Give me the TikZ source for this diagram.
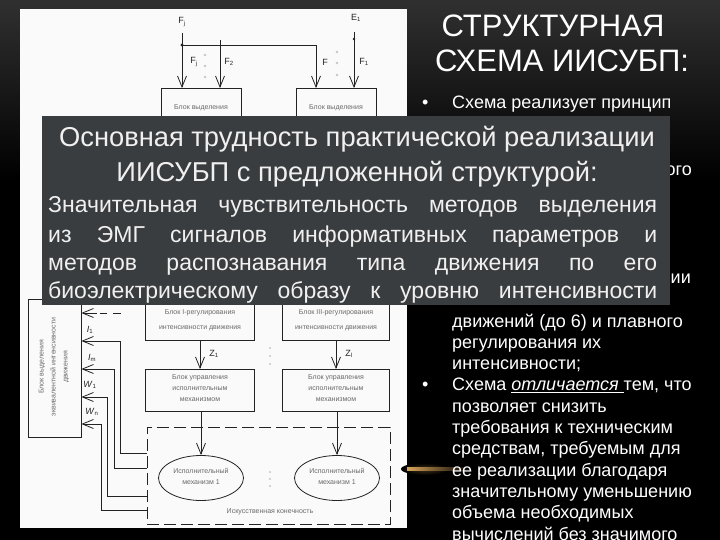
\documentclass[tikz,border=0pt]{standalone}
\usepackage{fontspec}
\setmainfont{Liberation Sans}
\usetikzlibrary{arrows.meta,shapes.geometric}
\definecolor{ovl}{RGB}{58,61,63}
\definecolor{paper}{RGB}{250,250,250}
\definecolor{dline}{RGB}{35,35,35}
\definecolor{dtext}{RGB}{105,105,105}
\definecolor{gold}{RGB}{215,165,90}
\begin{document}
\begin{tikzpicture}[x=1pt,y=-1pt,
  blk/.style={draw=dline,line width=0.8pt,fill=paper,inner sep=0pt,rectangle},
  lbl/.style={text=dtext,font=\fontsize{7}{11}\selectfont,align=center,inner sep=0pt},
  arr/.style={draw=dline,line width=0.8pt,-{Straight Barb[length=11pt,width=9pt]}},
  ln/.style={draw=dline,line width=0.8pt},
  sym/.style={text=dline,font=\fontsize{9}{10}\selectfont,inner sep=0pt},
  dotc/.style={fill=black!22},
  rt/.style={text=white,anchor=base west,inner sep=0pt,font=\fontsize{18}{21}\selectfont},
  ttl/.style={text=white,anchor=base,inner sep=0pt,font=\fontsize{31}{34}\selectfont},
  ovt/.style={text=white!94!black,inner sep=0pt,anchor=base,font=\fontsize{27.3}{30}\selectfont},
  ovj/.style={text=white!94!black,inner sep=0pt,anchor=base west,font=\fontsize{23}{26}\selectfont}
]
\useasboundingbox (0,0) rectangle (720,540);
% background
\fill[black] (0,0) rectangle (720,540);
\shade[top color={rgb,255:red,48;green,48;blue,48}, bottom color=black] (0,0) rectangle (720,180);
% diagram panel
\fill[paper] (20,9) rectangle (407,528);
% golden glow
\shade[inner color=gold!30!black, outer color=black] (425,469) ellipse [x radius=24, y radius=6];
\shade[left color=gold, right color=black] (407,467.5) rectangle (470,470.5);

% ---------- diagram: top ----------
\node[blk, minimum width=80pt, minimum height=60pt, anchor=north] (tb1) at (201,88) {};
\node[blk, minimum width=80pt, minimum height=60pt, anchor=north] (tb2) at (336,88) {};
\node[lbl] (tb1t) at (201,108) {Блок выделения};
\node[lbl] (tb2t) at (336,108) {Блок выделения};

\coordinate (fjtop) at (182,33);
\coordinate (fjdot) at (182,45);
\coordinate (fcorner) at (316,45);
\coordinate (f2top) at (220,40);
\coordinate (e1top) at (354,32);
\coordinate (e1dot) at (354,39);
\node[sym] (Fj) at (182,22) {F\textsubscript{j}};
\node[sym] (E1) at (356,18) {E\textsubscript{1}};
\node[sym] (Fj2) at (194,62) {F\textsubscript{j}};
\node[sym] (F2) at (229,62) {F\textsubscript{2}};
\node[sym] (Fr) at (325,62) {F};
\node[sym] (F1) at (364,62) {F\textsubscript{1}};
\draw[ln] (fjtop) -- (fjdot);
\draw[arr] (fjdot) -- (fjdot |- tb1.north);
\draw[arr] (fjdot) -- (fcorner) -- (fcorner |- tb2.north);
\draw[arr] (f2top) -- (f2top |- tb1.north);
\draw[arr] (e1top) -- (e1top |- tb2.north);
\fill[dline] (fjdot) circle (1.6);
\fill[dline] (e1dot) circle (1.4);
\foreach \yy in {55,66,77} \fill[dotc] (205,\yy) circle (1.3);
\foreach \yy in {52,63,75} \fill[dotc] (337,\yy) circle (1.3);

% ---------- diagram: middle ----------
\node[blk, minimum width=109pt, minimum height=55pt, anchor=south] (reg1) at (200,341) {};
\node[blk, minimum width=107pt, minimum height=55pt, anchor=south] (reg2) at (336,341) {};
\node[lbl, font=\fontsize{7}{15}\selectfont] (reg1t) at (200,320.5) {Блок I-регулирования\\интенсивности движения};
\node[lbl, font=\fontsize{7}{15}\selectfont] (reg2t) at (336,320.5) {Блок III-регулирования\\интенсивности движения};
\node[blk, minimum width=109pt, minimum height=42pt, anchor=north] (ctl1) at (200,369) {};
\node[blk, minimum width=107pt, minimum height=42pt, anchor=north] (ctl2) at (336,369) {};
\node[lbl] (ctl1t) at (200,388) {Блок управления\\исполнительным\\механизмом};
\node[lbl] (ctl2t) at (336,388) {Блок управления\\исполнительным\\механизмом};
\draw[arr] (reg1.south) -- (ctl1.north);
\draw[arr] (reg2.south) -- (ctl2.north);
\node[sym] (z1) at (214,354) {Z\textsubscript{1}};
\node[sym] (z2) at (349,354) {Z\textsubscript{l}};
\foreach \yy in {348,356,364} \fill[dotc] (270,\yy) circle (1.2);

% ---------- diagram: limb ----------
\node[draw=dline, line width=0.8pt, dash pattern=on 12pt off 5pt, minimum width=243pt, minimum height=97pt, inner sep=0pt] (limb) at (268.5,475.5) {};
\node[ellipse, draw=dline, line width=0.8pt, fill=paper, minimum width=85pt, minimum height=45pt, inner sep=0pt] (em1) at (201,478) {};
\node[ellipse, draw=dline, line width=0.8pt, fill=paper, minimum width=85pt, minimum height=45pt, inner sep=0pt] (em2) at (337,478) {};
\node[lbl] (em1t) at (201,476) {Исполнительный\\механизм 1};
\node[lbl] (em2t) at (337,476) {Исполнительный\\механизм 1};
\node[lbl] (limbt) at (270,512) {Искусственная конечность};
\draw[arr] (ctl1.south -| em1.north) -- (em1.north);
\draw[arr] (ctl2.south -| em2.north) -- (em2.north);
\foreach \yy in {472,479,486} \fill[dotc] (270,\yy) circle (1.2);

% ---------- diagram: left block ----------
\node[blk, minimum width=53pt, minimum height=138pt] (lb) at (54.5,368) {};
\node[lbl, rotate=90, font=\fontsize{7}{12}\selectfont] (lbt) at (54,367) {Блок выделения\\эквивалентной интенсивности\\движения};
\draw[arr] (limb.west |- 0,453) -- ++(-26,0) |- (lb.east |- 0,341);
\draw[arr] (limb.west |- 0,468) -- ++(-32,0) |- (lb.east |- 0,369);
\draw[arr] (limb.west |- 0,496) -- ++(-39,0) |- (lb.east |- 0,397);
\draw[arr] (limb.west |- 0,510) -- ++(-45,0) |- (lb.east |- 0,424);
\coordinate (d1) at (97,313);
\draw[arr] (d1) -- (lb.east |- d1);
\draw[ln] (100,313) -- (107,313) (113,313) -- (121,313);
\node[sym] (I1) at (90,330) {\textit{I}\textsubscript{1}};
\node[sym] (Im) at (92,358) {\textit{I}\textsubscript{m}};
\node[sym] (W1) at (90,385) {\textit{W}\textsubscript{1}};
\node[sym] (Wn) at (92,412) {\textit{W}\textsubscript{n}};

% ---------- right column ----------
\node[ttl] (t1) at (553,37) {СТРУКТУРНАЯ};
\node[ttl] (t2) at (562,72) {СХЕМА ИИСУБП:};
\node[rt] (b1) at (422,109) {•};
\node[rt] (r0) at (452,109) {Схема реализует принцип};
\node[rt, anchor=base east] (h1) at (692,176) {ого};
\node[rt, anchor=base east] (h2) at (691,283) {ии};

% ---------- overlay ----------
\fill[ovl] (42,116) rectangle (670,305);
\node[ovt] (o1) at (357,147) {Основная трудность практической реализации};
\node[ovt] (o2) at (357,182) {ИИСУБП с предложенной структурой:};
\node[ovj] (o3) at (48,213) {\makebox[609pt][s]{Значительная чувствительность методов выделения}};
\node[ovj] (o4) at (48,242) {\makebox[609pt][s]{из ЭМГ сигналов информативных параметров и}};
\node[ovj] (o5) at (48,270) {\makebox[609pt][s]{методов распознавания типа движения по его}};
\node[ovj] (o6) at (48,298) {\makebox[609pt][s]{биоэлектрическому образу к уровню интенсивности}};

% ---------- right column below ----------
\node[rt] (r1) at (452,327) {движений (до 6) и плавного};
\node[rt] (r2) at (452,348.3) {регулирования их};
\node[rt] (r3) at (452,369.6) {интенсивности;};
\node[rt] (b2) at (422,390.9) {•};
\node[rt] (r4) at (452,390.9) {Схема \underline{\textit{отличается}\ }тем, что};
\node[rt] (r5) at (452,412.2) {позволяет снизить};
\node[rt] (r6) at (452,433.5) {требования к техническим};
\node[rt] (r7) at (452,454.8) {средствам, требуемым для};
\node[rt] (r8) at (452,476.1) {ее реализации благодаря};
\node[rt] (r9) at (452,497.4) {значительному уменьшению};
\node[rt] (r10) at (452,518.7) {объема необходимых};
\node[rt] (r11) at (452,540) {вычислений без значимого};
\end{tikzpicture}
\end{document}
